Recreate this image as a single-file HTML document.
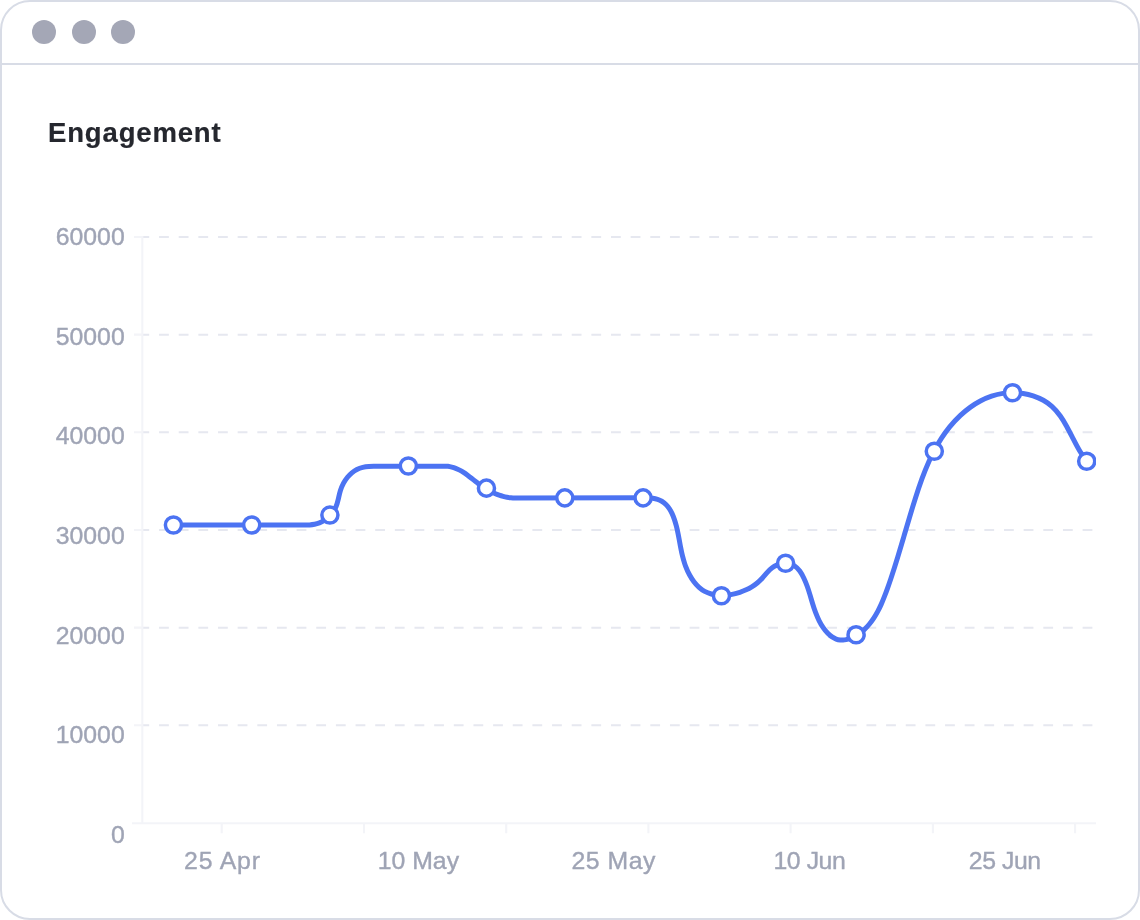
<!DOCTYPE html>
<html lang="en">
<head>
<meta charset="utf-8">
<title>Engagement</title>
<style>
  html, body { margin: 0; padding: 0; background: #ffffff; }
  body { width: 1140px; height: 920px; overflow: hidden; position: relative;
         font-family: "Liberation Sans", sans-serif; }
  .window { position: absolute; left: 0; top: 0; width: 1140px; height: 920px;
            box-sizing: border-box; border: 2px solid #d8dce6; border-radius: 30px;
            background: #ffffff; overflow: hidden; }
  .titlebar { position: absolute; left: 0; top: 0; width: 100%; height: 61px;
              border-bottom: 2px solid #d8dce6; }
  .dot { position: absolute; top: 18px; width: 24px; height: 24px; border-radius: 50%;
         background: #a4a7b6; }
  .d1 { left: 30px; } .d2 { left: 69.7px; } .d3 { left: 109.4px; }
  h1 { position: absolute; left: 46.4px; top: 113.7px; margin: 0; font-size: 27.5px; line-height: 34px;
       font-weight: 700; color: #25272e; letter-spacing: 0.85px; white-space: nowrap; -webkit-text-stroke: 0.2px #25272e; will-change: transform; }
  svg.chart { position: absolute; left: -2px; top: -2px; width: 1140px; height: 920px; will-change: transform; }
  .lbl { font-family: "Liberation Sans", sans-serif; font-size: 24.8px; fill: #9fa4b5;
         stroke: #9fa4b5; stroke-width: 0.38px; }
</style>
</head>
<body>
<div class="window">
  <div class="titlebar">
    <span class="dot d1"></span><span class="dot d2"></span><span class="dot d3"></span>
  </div>
  <h1>Engagement</h1>
  <svg class="chart" viewBox="0 0 1140 920">
    <defs><clipPath id="plot"><rect x="142" y="200" width="954" height="640"/></clipPath></defs>
    <!-- grid -->
    <g stroke="#e6e8f0" stroke-width="2" stroke-dasharray="9.8 9.85" stroke-dashoffset="3.6" fill="none">
      <path d="M143 237H1096"/>
      <path d="M143 334.65H1096"/>
      <path d="M143 432.3H1096"/>
      <path d="M143 530H1096"/>
      <path d="M143 627.65H1096"/>
      <path d="M143 725.3H1096"/>
    </g>
    <!-- axes -->
    <g stroke="#f3f4f8" stroke-width="2.1" fill="none">
      <path d="M142.3 236V823.3"/>
      <path d="M132 823.3H1096"/>
      <path d="M134 237H142M134 334.65H142M134 432.3H142M134 530H142M134 627.65H142M134 725.3H142"/>
      <path d="M221.7 823V833.2M364 823V833.2M506.2 823V833.2M648.4 823V833.2M790.6 823V833.2M932.9 823V833.2M1075.1 823V833.2"/>
    </g>
    <!-- y labels -->
    <g class="lbl" text-anchor="end">
      <text x="124.7" y="244.8">60000</text>
      <text x="124.7" y="344.5">50000</text>
      <text x="124.7" y="444.2">40000</text>
      <text x="124.7" y="543.9">30000</text>
      <text x="124.7" y="643.6">20000</text>
      <text x="124.7" y="743.3">10000</text>
      <text x="124.7" y="843.0">0</text>
    </g>
    <!-- x labels -->
    <g class="lbl" text-anchor="middle">
      <text x="222.4" y="868.8" letter-spacing="0.85">25 Apr</text>
      <text x="418.4" y="868.8">10 May</text>
      <text x="613.7" y="868.8" letter-spacing="0.5">25 May</text>
      <text x="809.4" y="868.8" letter-spacing="-0.45">10 Jun</text>
      <text x="1004.7" y="868.8" letter-spacing="-0.45">25 Jun</text>
    </g>
    <!-- LINE -->
    <path id="line" fill="none" stroke="#4c73f2" stroke-width="5" stroke-linejoin="round" stroke-linecap="round" d="M173.45 524.95L307 525.06C307.87 525.03 308.75 524.98 309.62 524.91C311.27 524.78 312.91 524.57 314.52 524.25C316.19 523.92 317.82 523.47 319.4 522.87C320.69 522.38 321.95 521.79 323.16 521.11C325.84 519.62 328.29 517.68 330.39 515.42C332.63 513.02 334.47 510.26 335.78 507.27C336.91 504.67 337.64 501.89 338.3 499.08C338.96 496.23 339.55 493.35 340.42 490.56C341.22 487.98 342.26 485.49 343.53 483.14C344.67 481.04 345.99 479.05 347.48 477.24C348.81 475.62 350.28 474.14 351.89 472.82C353.43 471.56 355.09 470.46 356.86 469.54C358.69 468.6 360.65 467.86 362.72 467.35C364.7 466.87 366.77 466.6 368.89 466.46C371.01 466.32 373.18 466.3 375.31 466.33L447.86 466.28C449.19 466.48 450.49 466.75 451.78 467.09C453.11 467.44 454.41 467.86 455.69 468.35C457.04 468.87 458.36 469.46 459.64 470.12C460.98 470.81 462.27 471.57 463.54 472.39C464.91 473.27 466.25 474.22 467.56 475.2C468.89 476.19 470.2 477.22 471.5 478.27C472.88 479.36 474.25 480.48 475.63 481.57C476.55 482.3 477.48 483.02 478.41 483.72C480.91 485.59 483.49 487.34 486.14 488.94C488.95 490.63 491.85 492.14 494.83 493.44C496.26 494.06 497.71 494.63 499.18 495.14C500.49 495.6 501.82 496.01 503.16 496.37C504.43 496.72 505.71 497.01 507.01 497.25C508.32 497.49 509.64 497.68 510.97 497.82C512.26 497.95 513.56 498.04 514.87 498.09L642.9 497.72C644.62 497.7 646.36 497.73 648.08 497.84C649.68 497.93 651.27 498.09 652.82 498.33C654.45 498.59 656.04 498.95 657.56 499.43C659.06 499.91 660.48 500.52 661.8 501.27C663.33 502.15 664.71 503.24 665.96 504.49C667.2 505.72 668.31 507.11 669.32 508.62C670.3 510.11 671.19 511.71 671.98 513.39C672.92 515.38 673.73 517.47 674.45 519.6C675.16 521.71 675.77 523.85 676.32 525.98C676.86 528.08 677.34 530.16 677.77 532.22C678.3 534.7 678.76 537.16 679.21 539.61C679.71 542.36 680.2 545.08 680.72 547.8C681.25 550.53 681.81 553.24 682.48 555.96C683.08 558.37 683.76 560.78 684.56 563.2C684.87 564.14 685.2 565.08 685.55 566.01C686.66 568.99 687.97 571.94 689.48 574.75C690.8 577.21 692.28 579.57 693.93 581.74C695.49 583.79 697.19 585.68 699.05 587.34C700.8 588.9 702.68 590.27 704.7 591.38C706.76 592.51 708.97 593.38 711.28 594.02C714.41 594.88 717.71 595.31 721.09 595.37C724.31 595.43 727.6 595.16 730.85 594.61C733.91 594.09 736.95 593.32 739.86 592.35C742.04 591.62 744.15 590.79 746.16 589.85C748.11 588.95 749.98 587.95 751.76 586.86C753.78 585.62 755.69 584.24 757.51 582.72C759.23 581.29 760.86 579.73 762.42 578.02C764.07 576.23 765.64 574.27 767.31 572.41C768.81 570.73 770.4 569.13 772.2 567.8C773.64 566.74 775.22 565.85 776.87 565.15C779.75 563.93 782.85 563.3 785.86 563.35C788.92 563.4 791.89 564.17 794.4 565.75C796.47 567.05 798.23 568.9 799.77 571.03C801.35 573.23 802.7 575.73 803.88 578.23C805.15 580.9 806.23 583.58 807.2 586.25C808.15 588.87 808.98 591.49 809.78 594.11C810.73 597.24 811.62 600.36 812.56 603.48C813.5 606.57 814.49 609.66 815.65 612.73C816.67 615.44 817.82 618.14 819.18 620.83C820.36 623.17 821.7 625.5 823.19 627.69C824.59 629.74 826.12 631.67 827.79 633.37C829.14 634.74 830.57 635.96 832.09 636.96C833.38 637.82 834.73 638.53 836.15 639.05C837.43 639.52 838.77 639.83 840.16 639.97C841.54 640.1 842.97 640.05 844.42 639.86C845.6 639.7 846.81 639.44 848 639.1C850.94 638.27 853.86 636.94 856.51 635.38C859.37 633.7 861.93 631.75 864.24 629.6C866.05 627.93 867.72 626.13 869.27 624.25C870.82 622.37 872.26 620.4 873.61 618.37C875.1 616.12 876.47 613.79 877.75 611.39C878.97 609.1 880.1 606.76 881.18 604.38C882.34 601.78 883.43 599.13 884.47 596.46C885.55 593.69 886.58 590.89 887.58 588.09C888.69 584.97 889.77 581.84 890.82 578.71C893.26 571.48 895.55 564.24 897.76 556.99C899.76 550.45 901.69 543.9 903.62 537.35C905.52 530.88 907.41 524.41 909.34 517.93C911.27 511.44 913.24 504.95 915.31 498.46C917.41 491.84 919.61 485.22 922 478.68C924.07 473.03 926.29 467.45 928.72 461.98C930.37 458.29 932.11 454.65 933.98 451.08C936.24 446.74 938.69 442.5 941.35 438.39C943.86 434.52 946.56 430.76 949.48 427.15C952.84 423 956.5 419.04 960.42 415.38C963.61 412.4 966.98 409.62 970.5 407.1C973.65 404.85 976.93 402.8 980.32 401C983.94 399.08 987.69 397.44 991.56 396.14C995.26 394.9 999.07 393.96 1002.97 393.37C1006.04 392.91 1009.17 392.67 1012.3 392.64C1015.94 392.61 1019.59 392.88 1023.18 393.44C1026.58 393.97 1029.92 394.77 1033.15 395.83C1036.7 396.99 1040.11 398.48 1043.31 400.28C1046.38 402.02 1049.26 404.06 1051.87 406.39C1055.03 409.22 1057.8 412.48 1060.31 416.02C1062.63 419.3 1064.74 422.81 1066.73 426.42C1068.94 430.43 1071.01 434.57 1073.09 438.65C1075.3 442.98 1077.51 447.26 1079.91 451.26C1082.02 454.77 1084.27 458.07 1086.78 461.01"/>
    <!-- DOTS -->
    <g id="dots" fill="#ffffff" stroke="#4c73f2" stroke-width="3.5" clip-path="url(#plot)"><circle cx="173.45" cy="525" r="8.05"/><circle cx="251.7" cy="525" r="8.05"/><circle cx="329.9" cy="515.07" r="8.05"/><circle cx="408.35" cy="466.05" r="8.05"/><circle cx="486.45" cy="488.14" r="8.05"/><circle cx="564.8" cy="497.85" r="8.05"/><circle cx="643.1" cy="497.9" r="8.05"/><circle cx="721.45" cy="595.75" r="8.05"/><circle cx="785.6" cy="563.2" r="8.05"/><circle cx="856.1" cy="634.8" r="8.05"/><circle cx="934.3" cy="451.3" r="8.05"/><circle cx="1012.5" cy="392.7" r="8.05"/><circle cx="1086.7" cy="461.3" r="8.05"/></g>
  </svg>
</div>
</body>
</html>
